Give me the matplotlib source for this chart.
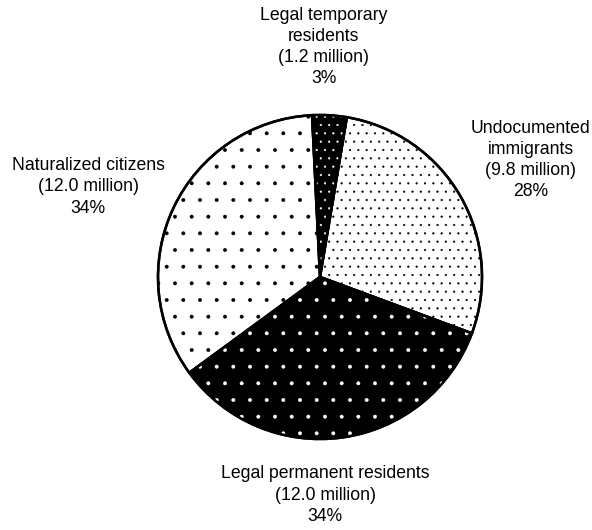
import matplotlib
matplotlib.use("Agg")
import matplotlib.pyplot as plt
from matplotlib.patches import Wedge

plt.rcParams["font.family"] = ["Liberation Sans", "DejaVu Sans"]
plt.rcParams["hatch.linewidth"] = 0.35

# Data (millions), clockwise from the top
NAMES = ["Legal temporary\nresidents", "Undocumented\nimmigrants",
         "Legal permanent residents", "Naturalized citizens"]
VALUES = [1.2, 9.8, 12.0, 12.0]

# Style per slice: face colour, hatch, dot colour
FACES = ["black", "white", "black", "white"]
HATCHES = ["..", "..", ".", "."]
DOTS = ["white", "black", "white", "black"]

# label anchor positions (pie radius = 1)
LABEL_POS = [(0.022, 1.42), (1.302, 0.722), (0.031, -1.346), (-1.432, 0.556)]

fig = plt.figure(figsize=(5.92, 5.30), dpi=100)
ax = fig.add_axes([0, 0, 1, 1])

wedges, _ = ax.pie(VALUES, startangle=92.8, counterclock=False,
                   colors=FACES, radius=1.0,
                   wedgeprops=dict(edgecolor="black", linewidth=1.8))

# dot overlays, drawn as separate patches so the dots can have their own colour
for w, h, dc in zip(wedges, HATCHES, DOTS):
    ov = Wedge(w.center, w.r, w.theta1, w.theta2, fill=False,
               edgecolor=dc, linewidth=0, hatch=h, zorder=w.get_zorder() + 0.1)
    ax.add_patch(ov)
    outline = Wedge(w.center, w.r, w.theta1, w.theta2, fill=False,
                    edgecolor="black", linewidth=1.8, zorder=w.get_zorder() + 0.2)
    ax.add_patch(outline)

total = sum(VALUES)
for name, v, (x, y) in zip(NAMES, VALUES, LABEL_POS):
    pct = round(v / total * 100)
    ax.text(x, y, f"{name}\n({v:.1f} million)\n{pct}%", ha="center", va="center",
            fontsize=12.7, linespacing=1.33)

ax.set_xlim(-320 / 162, 272 / 162)
ax.set_ylim(-253 / 162, 277 / 162)
ax.set_aspect("auto")
ax.axis("off")

fig.savefig("out.png", dpi=100)
